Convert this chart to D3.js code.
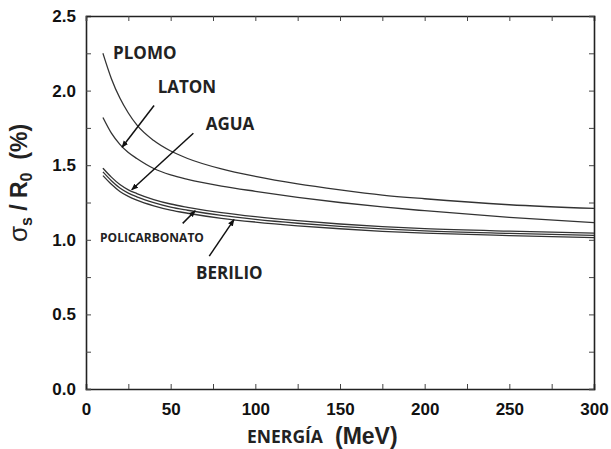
<!DOCTYPE html>
<html>
<head>
<meta charset="utf-8">
<script src="https://cdn.jsdelivr.net/npm/d3@7"></script>
<style>
  body { margin: 0; background: #fff; }
  svg { display: block; }
</style>
</head>
<body>
<svg id="chart"></svg>
<script>
// Energy grid (MeV) and curve values (sigma_s / R0, %)
const energy = [10, 15, 20, 25, 30, 40, 50, 60, 80, 100, 125, 150, 175, 200, 250, 300];
const plomo = [2.25, 2.08, 1.95, 1.85, 1.77, 1.665, 1.595, 1.545, 1.475, 1.425, 1.375, 1.335, 1.30, 1.275, 1.235, 1.21];
const laton = [1.82, 1.715, 1.64, 1.585, 1.545, 1.478, 1.435, 1.405, 1.36, 1.325, 1.285, 1.25, 1.22, 1.195, 1.15, 1.115];
const agua = [1.48, 1.42, 1.37, 1.335, 1.31, 1.27, 1.24, 1.218, 1.182, 1.155, 1.128, 1.106, 1.088, 1.075, 1.058, 1.045];
const policarbonato = [1.455, 1.396, 1.347, 1.313, 1.288, 1.249, 1.219, 1.198, 1.163, 1.137, 1.111, 1.09, 1.073, 1.06, 1.043, 1.029];
const berilio = [1.43, 1.372, 1.324, 1.291, 1.266, 1.228, 1.199, 1.178, 1.144, 1.119, 1.094, 1.074, 1.057, 1.045, 1.028, 1.014];

const xTicks = d3.range(0, 301, 25);
const yTicks = d3.range(0, 2.51, 0.25);

// Curve labels [text, x, y, fontSize] and arrows [x1, y1, x2, y2] in data units
const labels = [
    ["PLOMO", 16, 2.21, 17],
    ["LATON", 42.3, 1.986, 17],
    ["AGUA", 70.7, 1.736, 17],
    ["POLICARBONATO", 8.3, 0.987, 12],
    ["BERILIO", 65, 0.735, 17]
];
const arrows = [
    [40.2, 1.90, 21.3, 1.62],
    [63.4, 1.714, 27, 1.335],
    [57.1, 1.11, 64.5, 1.195],
    [72.8, 0.891, 87.4, 1.135]
];

const W = 611, H = 449;
const margin = { top: 16, right: 17, bottom: 60, left: 86 };
const width = W - margin.left - margin.right;
const height = H - margin.top - margin.bottom;

const root = d3.select("#chart").attr("width", W).attr("height", H);
const svg = root.append("g").attr("transform", `translate(${margin.left},${margin.top})`);

const x = d3.scaleLinear().domain([0, 300]).range([0, width]);
const y = d3.scaleLinear().domain([0, 2.5]).range([height, 0]);

// Axes with inward ticks on all four sides
const tickFont = "'Liberation Sans', Arial, sans-serif";

svg.append("g")
    .attr("transform", `translate(0,${height})`)
    .call(d3.axisBottom(x).tickValues(xTicks).tickSize(-5).tickPadding(14)
        .tickFormat(d => d % 50 === 0 ? d3.format("d")(d) : ""));

svg.append("g")
    .call(d3.axisLeft(y).tickValues(yTicks).tickSize(-5).tickPadding(10)
        .tickFormat(d => Math.abs(d * 2 - Math.round(d * 2)) < 1e-6 ? d3.format(".1f")(d) : ""));

svg.append("g")
    .call(d3.axisTop(x).tickValues(xTicks).tickSize(-5).tickFormat(""));

svg.append("g")
    .attr("transform", `translate(${width},0)`)
    .call(d3.axisRight(y).tickValues(yTicks).tickSize(-5).tickFormat(""));

svg.selectAll(".domain").attr("stroke", "#222").attr("stroke-width", 1.6);
svg.selectAll(".tick line").attr("stroke", "#444").attr("stroke-width", 1);
svg.selectAll(".tick text")
    .style("font-family", tickFont)
    .style("font-size", "17px")
    .style("font-weight", "bold")
    .attr("fill", "#111");

// Curves
const line = d3.line()
    .x((d, i) => x(energy[i]))
    .y(d => y(d))
    .curve(d3.curveMonotoneX);

[plomo, laton, agua, policarbonato, berilio].forEach(series => {
    svg.append("path")
        .datum(series)
        .attr("d", line)
        .attr("fill", "none")
        .attr("stroke", "#333")
        .attr("stroke-width", 1.3);
});

// Arrow marker
root.append("defs").append("marker")
    .attr("id", "arrowHead")
    .attr("viewBox", "0 0 10 10")
    .attr("refX", 9).attr("refY", 5)
    .attr("markerWidth", 7).attr("markerHeight", 7)
    .attr("markerUnits", "userSpaceOnUse")
    .attr("orient", "auto")
    .append("path")
    .attr("d", "M0,1 L10,5 L0,9 Z")
    .attr("fill", "#111");

svg.selectAll(".arrow")
    .data(arrows)
    .enter().append("line")
    .attr("class", "arrow")
    .attr("x1", d => x(d[0])).attr("y1", d => y(d[1]))
    .attr("x2", d => x(d[2])).attr("y2", d => y(d[3]))
    .attr("stroke", "#111")
    .attr("stroke-width", 1.5)
    .attr("marker-end", "url(#arrowHead)");

svg.selectAll(".curve-label")
    .data(labels)
    .enter().append("text")
    .attr("class", "curve-label")
    .attr("x", d => x(d[1]))
    .attr("y", d => y(d[2]))
    .style("font-family", "'Open Sans', sans-serif")
    .style("font-weight", "bold")
    .style("font-size", d => d[3] + "px")
    .attr("fill", "#222")
    .text(d => d[0]);

// X axis title
const xTitle = root.append("text")
    .attr("x", 247)
    .attr("y", 443)
    .attr("fill", "#222");
xTitle.append("tspan")
    .style("font-family", "'Open Sans', sans-serif")
    .style("font-weight", "bold")
    .style("font-size", "17.5px")
    .text("ENERGÍA");
xTitle.append("tspan")
    .attr("x", 335)
    .attr("dy", 1)
    .style("font-family", tickFont)
    .style("font-weight", "bold")
    .style("font-size", "23px")
    .text("(MeV)");

// Y axis title
const yTitle = root.append("text")
    .attr("transform", "translate(27,183) rotate(-90)")
    .attr("text-anchor", "middle")
    .style("font-family", tickFont)
    .style("font-weight", "bold")
    .style("font-size", "23px")
    .attr("fill", "#222");
yTitle.append("tspan").style("font-weight", "normal").style("font-size", "26px").text("σ");
yTitle.append("tspan").attr("dy", 5).style("font-size", "16px").text("s");
yTitle.append("tspan").attr("dy", -5).text(" / R");
yTitle.append("tspan").attr("dy", 5).style("font-size", "16px").text("0");
yTitle.append("tspan").attr("dy", -5).text("\u00a0\u00a0(%)");
</script>
</body>
</html>
